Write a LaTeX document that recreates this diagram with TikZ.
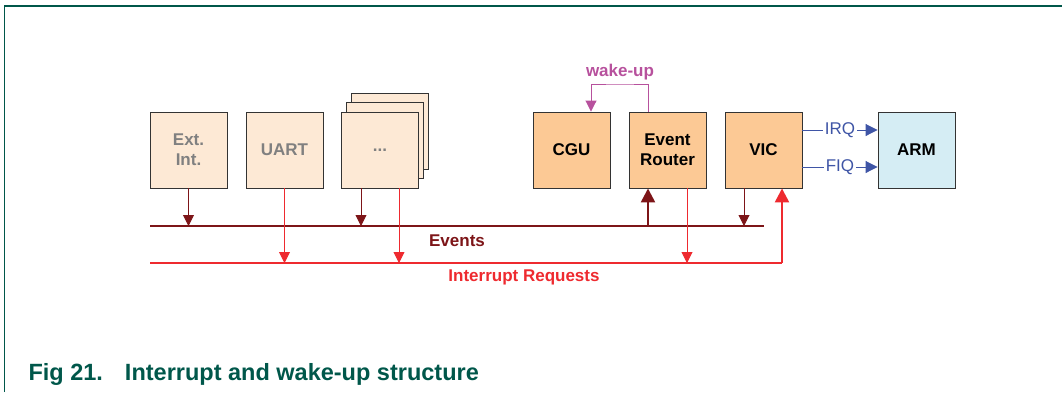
\documentclass[tikz,border=0pt]{standalone}
\usepackage{fontspec}
\setmainfont{Liberation Sans}
\usepackage{xcolor}
\usetikzlibrary{arrows.meta,positioning,calc}

\definecolor{nxpgreen}{HTML}{00574A}
\definecolor{periph}{HTML}{FDE9D5}
\definecolor{core}{HTML}{FCC995}
\definecolor{armblue}{HTML}{D5EDF4}
\definecolor{evred}{HTML}{7D1518}
\definecolor{irqred}{HTML}{EE2A2F}
\definecolor{wakepink}{HTML}{B7519D}
\definecolor{sigblue}{HTML}{3F55A6}

\begin{document}
\begin{tikzpicture}[x=1pt,y=-1pt,font=\fontsize{17}{20}\selectfont\bfseries,
  blk/.style={draw=black!80,line width=0.9pt,minimum width=77pt,minimum height=76pt,inner sep=0pt,align=center},
  per/.style={blk,fill=periph,text=black!50},
  cor/.style={blk,fill=core},
  evarr/.style={-{Triangle[length=11pt,width=11pt]},evred,line width=0.9pt},
  irqarr/.style={-{Triangle[length=11pt,width=11pt]},irqred,line width=0.9pt},
  bigarr/.style={-{Triangle[length=14pt,width=14pt]},line width=2.4pt},
  sig/.style={-{Triangle[length=12pt,width=12pt]},sigblue,line width=0.9pt}]
\useasboundingbox (0,0) rectangle (1062,392);
\draw[nxpgreen,line width=1pt] (4,392) -- (4,6);
\draw[nxpgreen,line width=2pt] (4,6) -- (1062,6);
% peripherals
\node[per] (ext) at (188.5,150) {Ext.\\Int.};
\node[per] (uart) at (284.5,150) {UART};
\node[per] (dotsC) at (390,131) {};
\node[per] (dotsB) at (385,140.5) {};
\node[per] (dots) at (380,150) {...};
% core blocks
\node[cor] (cgu) at (571.5,150) {CGU};
\node[cor] (router) at (667.5,150) {Event\\Router};
\node[cor] (vic) at (763.5,150) {VIC};
\node[blk,fill=armblue] (arm) at (916.5,150) {ARM};
% buses
\coordinate (evL) at (150,226);
\coordinate (evR) at (764,226);
\coordinate (irqL) at (150,263);
\coordinate (irqR) at (782,263);
\draw[evred,line width=2.4pt] (evL) -- node[below=4pt,text=evred]{Events} (evR);
\draw[irqred,line width=2.4pt] (irqL) -- (irqR);
\node[text=irqred] (irqlbl) at (524,277) {Interrupt Requests};
\draw[evarr] (ext.south) -- (ext.south|-evL);
\draw[evarr] ([xshift=-19pt]dots.south) -- ([xshift=-19pt]dots.south|-evL);
\draw[evarr] ([xshift=-19.5pt]vic.south) -- ([xshift=-19.5pt]vic.south|-evL);
\draw[irqarr] (uart.south) -- (uart.south|-irqL);
\draw[irqarr] ([xshift=19pt]dots.south) -- ([xshift=19pt]dots.south|-irqL);
\draw[irqarr] ([xshift=19.5pt]router.south) -- ([xshift=19.5pt]router.south|-irqL);
\draw[bigarr,evred] ([xshift=-19.5pt]router.south|-evL) -- ([xshift=-19.5pt]router.south);
\draw[bigarr,irqred] (irqR) -- (irqR|-vic.south);
% wake-up loop
\draw[-{Triangle[length=11pt,width=11pt]},wakepink,line width=0.9pt]
  ([xshift=-19.5pt]router.north) |- (620,84) node[above=0pt,text=wakepink]{wake-up}
  -| ([xshift=19.5pt]cgu.north);
% VIC to ARM
\draw[sig] (vic.east|-0,130) -- node[fill=white,inner sep=1.5pt,font=\fontsize{17}{20}\selectfont]{IRQ} (arm.west|-0,130);
\draw[sig] (vic.east|-0,167) -- node[fill=white,inner sep=1.5pt,font=\fontsize{17}{20}\selectfont]{FIQ} (arm.west|-0,167);
\node[anchor=base west,text=nxpgreen,font=\fontsize{23.5}{27}\selectfont\bfseries] (cap) at (25,380) {Fig 21.\hspace{22pt}Interrupt and wake-up structure};
\end{tikzpicture}
\end{document}
